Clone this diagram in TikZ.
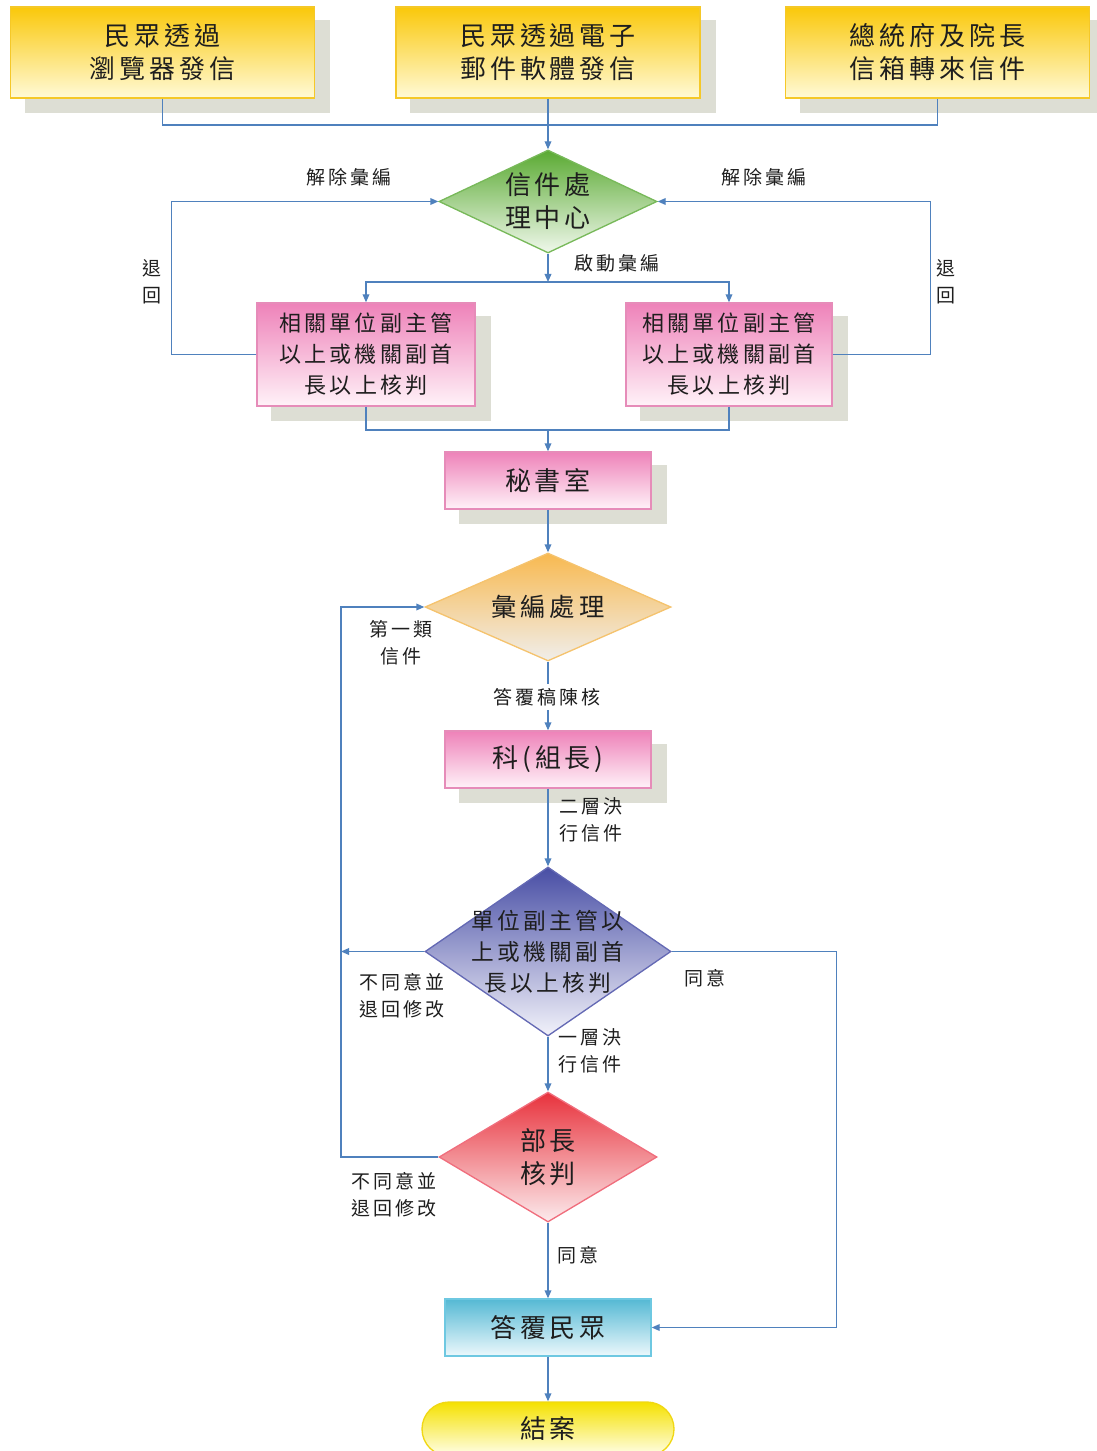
\documentclass[tikz,border=0pt]{standalone}
\usepackage{fontspec}
\setmainfont{Noto Sans CJK TC}[LetterSpace=15]
\usetikzlibrary{shapes.geometric,shapes.misc,arrows.meta,calc,backgrounds}
\definecolor{lc}{RGB}{79,129,189}
\definecolor{txtc}{RGB}{30,30,30}
\definecolor{shadowc}{RGB}{221,222,212}
\definecolor{ytop}{RGB}{250,200,10}
\definecolor{ybot}{RGB}{255,250,215}
\definecolor{ybord}{RGB}{245,200,40}
\definecolor{ptop}{RGB}{238,130,185}
\definecolor{pbot}{RGB}{255,242,248}
\definecolor{pbord}{RGB}{230,140,185}
\definecolor{gtop}{RGB}{90,170,50}
\definecolor{gbot}{RGB}{240,248,236}
\definecolor{gbord}{RGB}{120,185,90}
\definecolor{otop}{RGB}{248,185,80}
\definecolor{obot}{RGB}{240,238,235}
\definecolor{obord}{RGB}{245,195,110}
\definecolor{btop}{RGB}{72,78,165}
\definecolor{bbot}{RGB}{242,242,250}
\definecolor{bbord}{RGB}{100,105,180}
\definecolor{rtop}{RGB}{232,50,60}
\definecolor{rbot}{RGB}{252,235,237}
\definecolor{rbord}{RGB}{240,110,125}
\definecolor{ctop}{RGB}{85,185,212}
\definecolor{cbot}{RGB}{236,248,252}
\definecolor{cbord}{RGB}{110,200,225}
\definecolor{etop}{RGB}{245,225,0}
\definecolor{ebot}{RGB}{255,255,235}
\definecolor{ebord}{RGB}{240,215,20}
\begin{document}
\begin{tikzpicture}[x=0.75pt,y=-0.75pt,
  every node/.style={text=txtc},
  line/.style={draw=lc, line width=1pt},
  arr/.style={line, -{Triangle[length=6pt,width=5pt]}},
  ybox/.style={rectangle, draw=ybord, line width=1pt, top color=ytop, bottom color=ybot,
    minimum width=228pt, minimum height=68.25pt, inner sep=0pt, align=center,
    font={\fontsize{19.5}{24.75}\selectfont}},
  pbox/.style={rectangle, draw=pbord, line width=1pt, top color=ptop, bottom color=pbot,
    minimum height=77.25pt, inner sep=0pt, align=center,
    font={\fontsize{16.5}{23.25}\selectfont}},
  sbox/.style={rectangle, draw=pbord, line width=1pt, top color=ptop, bottom color=pbot,
    minimum width=154.5pt, minimum height=42.75pt, inner sep=0pt, align=center,
    font={\fontsize{19.5}{24}\selectfont}},
  cbox/.style={rectangle, draw=cbord, line width=1pt, top color=ctop, bottom color=cbot,
    minimum width=154.5pt, minimum height=42.75pt, inner sep=0pt, align=center,
    font={\fontsize{19.5}{24}\selectfont}},
  ebox/.style={rounded rectangle, draw=ebord, line width=1pt, top color=etop, bottom color=ebot,
    minimum width=189pt, minimum height=40.5pt, inner sep=0pt, align=center,
    font={\fontsize{19.5}{24}\selectfont}},
  dia/.style={diamond, line width=1pt, inner sep=0pt},
  dtxt/.style={align=center, inner sep=0pt},
  lab/.style={align=center, inner sep=0pt, font={\fontsize{14.25}{20.25}\selectfont}}
]
\useasboundingbox (0,0) rectangle (1096,1451);

% top boxes
\node[ybox] (b1) at (162.5,52.5) {民眾透過\\瀏覽器發信};
\node[ybox] (b2) at (548,52.5) {民眾透過電子\\郵件軟體發信};
\node[ybox] (b3) at (937.5,52.5) {總統府及院長\\信箱轉來信件};

% green diamond
\node[dia, draw=gbord, top color=gtop, bottom color=gbot, minimum width=163.5pt, minimum height=77.25pt] (g) at (548,201.5) {};
\node[dtxt, font={\fontsize{19.5}{24.75}\selectfont}] (gt) at (g.center) {信件處\\理中心};

% pink boxes
\node[pbox, minimum width=163.5pt] (p1) at (366,354.5) {相關單位副主管\\以上或機關副首\\長以上核判};
\node[pbox, minimum width=154.5pt] (p2) at (729,354.5) {相關單位副主管\\以上或機關副首\\長以上核判};

\node[sbox] (sec) at (548,480.5) {秘書室};

% orange diamond
\node[dia, draw=obord, top color=otop, bottom color=obot, minimum width=184.5pt, minimum height=81pt] (od) at (548,607) {};
\node[dtxt, font={\fontsize{19}{24}\selectfont}] (ot) at (od.center) {彙編處理};

\node[sbox] (k) at (548,759.5) {科(組長)};

% blue diamond
\node[dia, draw=bbord, top color=btop, bottom color=bbot, minimum width=184.5pt, minimum height=126.75pt] (bd) at (548,951.5) {};
\node[dtxt, font={\fontsize{17}{23.25}\selectfont}] (bt) at (bd.center) {單位副主管以\\上或機關副首\\長以上核判};

% red diamond
\node[dia, draw=rbord, top color=rtop, bottom color=rbot, minimum width=163.5pt, minimum height=97.5pt] (rd) at (548,1157) {};
\node[dtxt, font={\fontsize{19.5}{24.75}\selectfont}] (rt) at (rd.center) {部長\\核判};

\node[cbox] (ans) at (548,1327.5) {答覆民眾};
\node[ebox] (fin) at (548,1429) {結案};

% shadows
\begin{scope}[on background layer]
\foreach \n in {b1,b2,b3,p1,p2,sec,k}
  \fill[shadowc] ($(\n.north west)+(15,14)$) rectangle ($(\n.south east)+(15,14)$);
\end{scope}

% connectors
\coordinate (j1) at (548,125);
\draw[line] (b1.south) |- (j1);
\draw[line] (b3.south) |- (j1);
\draw[arr] (b2.south) -- (g.north);

\coordinate (j2) at (548,282);
\draw[arr] (g.south) -- (j2);
\draw[arr] (j2) -| (p1.north);
\draw[arr] (j2) -| (p2.north);
\draw[arr] (p1.west) -- ++(-85,0) |- (g.west);
\draw[arr] (p2.east) -- ++(98,0) |- (g.east);

\coordinate (j3) at (548,430);
\draw[line] (p1.south) |- (j3);
\draw[line] (p2.south) |- (j3);
\draw[arr] (j3) -- (sec.north);
\draw[arr] (sec.south) -- (od.north);
\draw[arr] (od.south) -- (k.north);
\draw[arr] (k.south) -- (bd.north);
\coordinate (lx) at (341,951.5);
\draw[arr] (bd.west) -- (lx);
\draw[arr] (rd.west) -| (lx) |- (od.west);
\draw[arr] (bd.east) -- ++(165,0) |- (ans.east);
\draw[arr] (bd.south) -- (rd.north);
\draw[arr] (rd.south) -- (ans.north);
\draw[arr] (ans.south) -- (fin.north);

% labels
\node[lab] (l1) at (349,177) {解除彙編};
\node[lab] (l2) at (764,177) {解除彙編};
\node[lab] (l3) at (152,281.5) {退\\回};
\node[lab] (l4) at (946,281.5) {退\\回};
\node[lab] (l5) at (617,263) {啟動彙編};
\node[lab] (l6) at (401,643) {第一類\\信件};
\node[lab, fill=white, inner sep=3pt] (l7) at (547,697) {答覆稿陳核};
\node[lab] (l8) at (591,820) {二層決\\行信件};
\node[lab] (l9) at (402,996) {不同意並\\退回修改};
\node[lab] (l10) at (705,978) {同意};
\node[lab] (l11) at (590,1050.5) {一層決\\行信件};
\node[lab] (l12) at (394,1195) {不同意並\\退回修改};
\node[lab] (l13) at (578,1255) {同意};
\end{tikzpicture}
\end{document}
